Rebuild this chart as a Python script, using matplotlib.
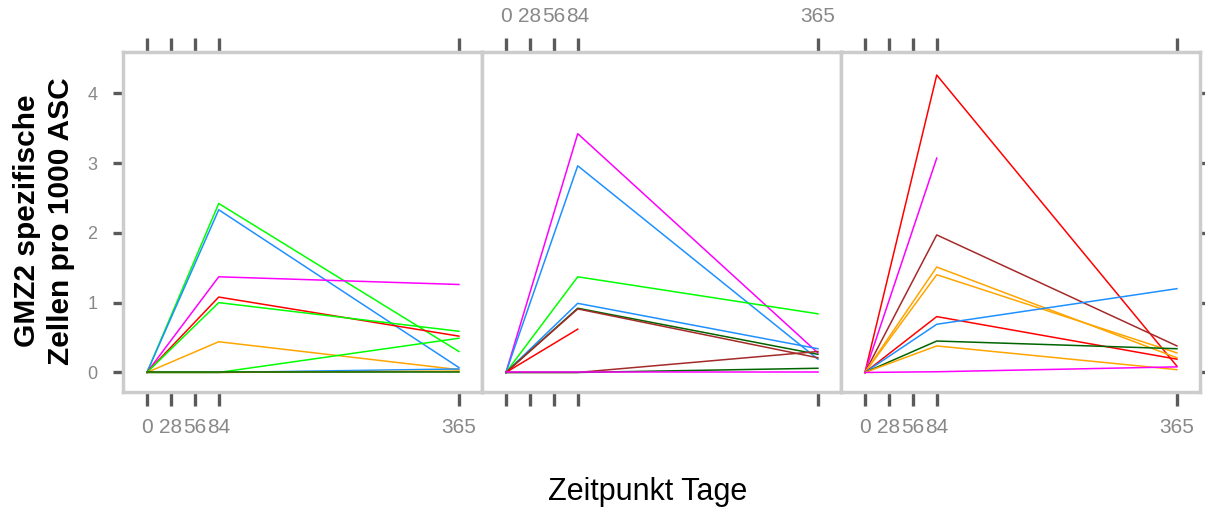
import numpy as np
import matplotlib
matplotlib.use("Agg")
import matplotlib.pyplot as plt

plt.rcParams['font.family'] = ['Liberation Sans', 'DejaVu Sans']

# --- data ---
days = [0, 84, 365]
tick_days = [0, 28, 56, 84, 365]
y_ticks = [0, 1, 2, 3, 4]

RED = '#FF0000'
GREEN = '#00FF00'
BLUE = '#1E90FF'
MAGENTA = '#FF00FF'
ORANGE = '#FFA500'
BROWN = '#A52A2A'
DKGREEN = '#006400'

nan = np.nan

# panel 1
p1_colors = [GREEN, BLUE, MAGENTA, RED, GREEN, ORANGE, GREEN, BLUE, ORANGE, DKGREEN]
p1_values = [
    [0, 2.42, 0.30],
    [0, 2.33, 0.07],
    [0, 1.37, 1.26],
    [0, 1.08, 0.52],
    [0, 1.00, 0.59],
    [0, 0.44, 0.04],
    [0, 0.00, 0.49],
    [0, 0.00, 0.05],
    [0, 0.00, 0.02],
    [0, 0.00, 0.00],
]

# panel 2
p2_colors = [MAGENTA, BLUE, GREEN, BLUE, DKGREEN, BROWN, RED, BROWN, DKGREEN, MAGENTA]
p2_values = [
    [0, 3.42, 0.28],
    [0, 2.96, 0.19],
    [0, 1.37, 0.84],
    [0, 0.99, 0.34],
    [0, 0.92, 0.26],
    [0, 0.91, 0.21],
    [0, 0.62, nan],
    [0, 0.00, 0.30],
    [0, 0.00, 0.06],
    [0, 0.00, 0.00],
]

# panel 3
p3_colors = [RED, MAGENTA, BROWN, ORANGE, ORANGE, RED, BLUE, DKGREEN, ORANGE, MAGENTA]
p3_values = [
    [0, 4.26, 0.09],
    [0, 3.07, nan],
    [0, 1.97, 0.38],
    [0, 1.51, 0.21],
    [0, 1.40, 0.28],
    [0, 0.80, 0.19],
    [0, 0.69, 1.20],
    [0, 0.45, 0.34],
    [0, 0.38, 0.04],
    [0, 0.01, 0.08],
]

panels = [(p1_colors, p1_values), (p2_colors, p2_values), (p3_colors, p3_values)]

# --- figure ---
W, H = 1205, 514
fig = plt.figure(figsize=(W / 100, H / 100), dpi=100)

box_left = 123
box_w = 359
box_top = 52
box_bot = 392

tick_col = '#5a5a5a'
lab_col = '#888888'

for i, (cols, vals) in enumerate(panels):
    x0 = box_left + i * box_w
    ax = fig.add_axes([x0 / W, 1 - box_bot / H, box_w / W, (box_bot - box_top) / H])
    for c, v in zip(cols, vals):
        ax.plot(days, v, color=c, lw=1.1)
    ax.set_xlim(-28, 392)
    ax.set_ylim(-0.28, 4.59)
    for s in ax.spines.values():
        s.set_color('#cccccc')
        s.set_linewidth(2.5)

    ax.set_xticks(tick_days)
    ax.set_xticklabels([str(d) for d in tick_days])
    ax.set_yticks(y_ticks)
    ax.set_yticklabels([str(t) for t in y_ticks])

    ax.tick_params(axis='x', direction='out', length=10, width=2.4, color=tick_col,
                   labelcolor=lab_col, labelsize=15, pad=9,
                   top=True, bottom=True,
                   labeltop=(i == 1), labelbottom=(i != 1))
    ax.tick_params(axis='y', direction='out', length=7.5, width=2.4, color=tick_col,
                   labelcolor=lab_col, labelsize=13, pad=11,
                   left=(i == 0), right=(i == 2),
                   labelleft=(i == 0), labelright=False)

fig.text(44 / W, 1 - 221 / H, 'GMZ2 spezifische\nZellen pro 1000 ASC',
         rotation=90, ha='center', va='center', multialignment='center',
         fontsize=21.5, fontweight='bold', color='black', linespacing=1.25)
fig.text(648 / W, 1 - 492 / H, 'Zeitpunkt Tage', ha='center', va='center',
         fontsize=22, color='black')

fig.savefig('out.png', dpi=100)
